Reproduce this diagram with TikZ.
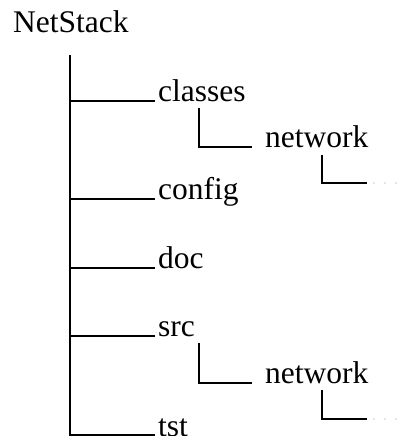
\documentclass[tikz,border=0pt]{standalone}
\usepackage{fontspec}
\setmainfont{Liberation Serif}
\begin{document}
\begin{tikzpicture}[x=1pt,y=-1pt,
  lbl/.style={anchor=base west,inner xsep=3pt,inner ysep=0pt,font=\fontsize{31.5}{36}\selectfont},
  tree/.style={line width=1.3pt,black},
  faint/.style={line width=1.2pt,black!10,dash pattern=on 2pt off 9pt}]
\useasboundingbox (0,0) rectangle (397,436);
\node[lbl] (root) at (10,33) {NetStack};
\node[lbl] (classes) at (155,101) {classes};
\node[lbl] (config) at (155,199) {config};
\node[lbl] (doc) at (155,268) {doc};
\node[lbl] (src) at (155,336) {src};
\node[lbl] (tst) at (155,436) {tst};
\node[lbl] (net1) at (262,147) {network};
\node[lbl] (net2) at (262,383) {network};
\coordinate (trunk) at (70,55);
\coordinate (sub1) at (199,108);
\coordinate (sub2) at (199,343);
\coordinate (leaf1) at (322,155);
\coordinate (leaf2) at (322,390);
\coordinate (end1) at (367,183);
\coordinate (end2) at (367,419);
\coordinate (far1) at (398,183);
\coordinate (far2) at (398,419);
\draw[tree] (trunk) |- ([yshift=1pt]tst.base west);
\foreach \n in {classes,config,doc,src}
  \draw[tree] (trunk |- \n.base) -- (\n.base west);
\draw[tree] (sub1) |- ([xshift=-10pt]net1.base west);
\draw[tree] (sub2) |- ([xshift=-10pt]net2.base west);
\draw[tree] (leaf1) |- (end1);
\draw[tree] (leaf2) |- (end2);
\draw[faint] (end1) ++(6,0) -- (far1);
\draw[faint] (end2) ++(6,0) -- (far2);
\end{tikzpicture}
\end{document}
